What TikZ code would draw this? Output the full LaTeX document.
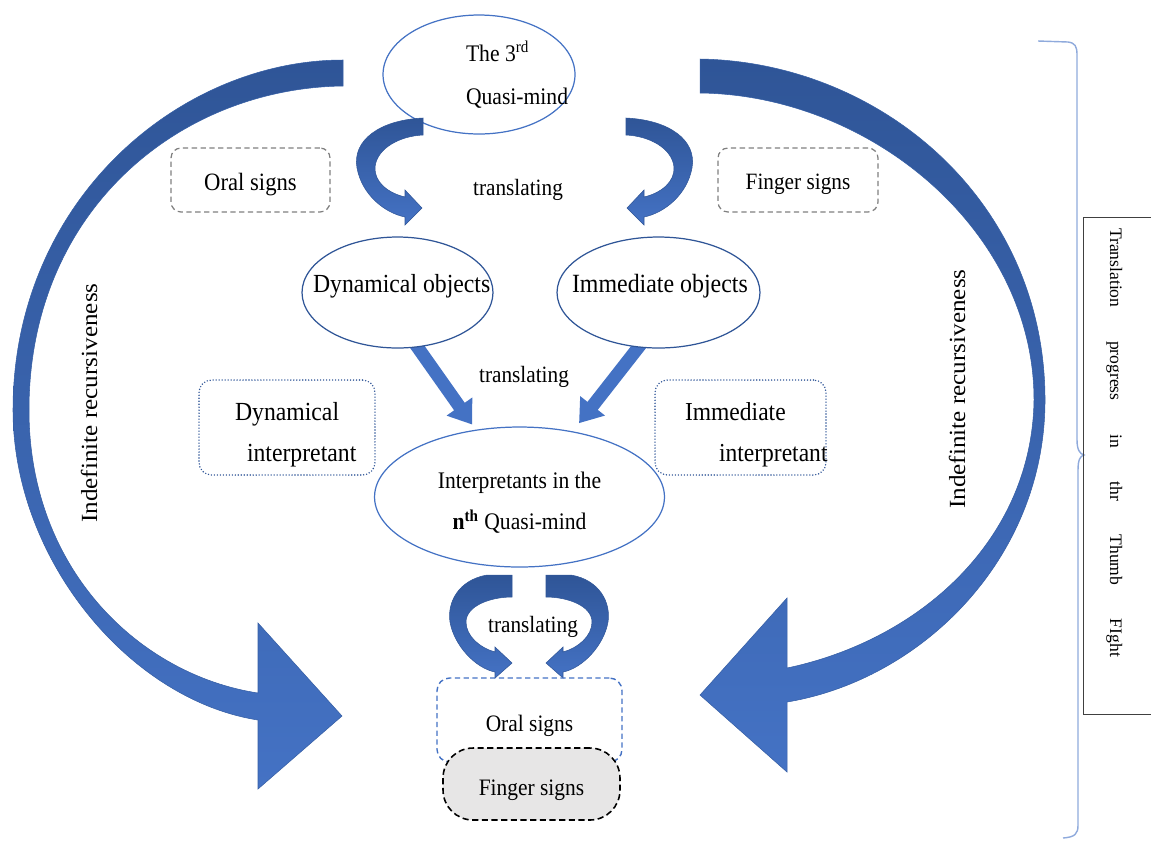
\documentclass[tikz,border=0pt]{standalone}
\usepackage{fontspec}
\usepackage{graphicx}
\setmainfont{Liberation Serif}
\usetikzlibrary{shapes.geometric,arrows.meta,backgrounds}
\definecolor{arcdark}{RGB}{47,85,151}
\definecolor{arclight}{RGB}{68,114,196}
\definecolor{ellblue}{RGB}{68,114,196}
\definecolor{boxblue}{RGB}{47,85,151}
\definecolor{dashgray}{RGB}{127,127,127}
\definecolor{bracecol}{RGB}{143,170,220}
\definecolor{fingerfill}{RGB}{231,230,230}
\newcommand\tallx[1]{\scalebox{1}[1.1]{#1}}
\newcommand\ptxt[3]{\makebox[0pt][l]{\hspace*{#1}\raisebox{#2}[0pt][0pt]{\tallx{#3}}}}
\newcommand\ctxt[2]{\makebox[0pt]{\raisebox{#1}[0pt][0pt]{\tallx{#2}}}}
\begin{document}
\begin{tikzpicture}[x=0.02cm,y=-0.02cm,
  ellL/.style={ellipse, draw=ellblue, line width=0.7pt, fill=white, inner sep=0pt, outer sep=0pt},
  ellD/.style={ellL, draw=boxblue},
  grayrect/.style={rectangle, rounded corners=0.2cm, draw=dashgray, line width=0.7pt, dash pattern=on 3pt off 2pt, inner sep=0pt},
  dotrect/.style={rectangle, rounded corners=0.25cm, draw=boxblue, line width=0.9pt, dash pattern=on 0pt off 1.7pt, line cap=round, inner sep=0pt},
  bluedash/.style={rectangle, rounded corners=0.25cm, draw=arclight, line width=0.8pt, dash pattern=on 3pt off 2pt, inner sep=0pt},
  fingerbox/.style={rectangle, rounded corners=0.6cm, draw=black, fill=fingerfill, line width=0.9pt, dash pattern=on 3.5pt off 2pt, inner sep=0pt},
  fatarrow/.style={draw=arclight, line width=0.26cm, -{Triangle[width=0.6cm,length=0.44cm]}},
  bigarc/.style={top color=arcdark, middle color=arcdark!55!arclight, bottom color=arclight, draw=arcdark!70!arclight, line width=0.3pt},
  ribbon/.style={top color=arcdark, bottom color=arclight, draw=arcdark, line width=0.3pt},
  lbl/.style={font=\fontsize{12.1}{14}\selectfont, inner sep=0pt, anchor=base},
  rotlbl/.style={font=\fontsize{14.3}{17}\selectfont, inner sep=0pt, anchor=base, rotate=90}
]
\useasboundingbox (0,0) rectangle (1151,840);

% big curved arrows
\shadedraw[bigarc] (343,60) .. controls (180,60) and (13,200) .. (13,410) .. controls (13,560) and (130,700) .. (258,720) -- (258,789) -- (342,716) -- (258,623) -- (258,693) .. controls (140,675) and (29,570) .. (29,410) .. controls (29,210) and (180,88) .. (343,86) -- cycle;
\shadedraw[bigarc] (700,59) .. controls (880,62) and (1045,200) .. (1045,400) .. controls (1045,560) and (920,680) .. (787,702) -- (787,772) -- (700,695) -- (787,598) -- (787,668) .. controls (920,640) and (1032,540) .. (1034,400) .. controls (1034,230) and (870,95) .. (700,93) -- cycle;

% ellipses
\node[ellL, minimum width=3.84cm, minimum height=2.38cm, font=\fontsize{12.3}{22.7}\selectfont] (q3) at (479,74.5)
  {\ptxt{-0.26cm}{0.27cm}{\begin{tabular}[t]{@{}l@{}}The 3\textsuperscript{rd}\\Quasi-mind\end{tabular}}};
\node[ellD, minimum width=3.82cm, minimum height=2.22cm, font=\fontsize{13.5}{15}\selectfont] (dyn) at (397.5,292.5)
  {\ptxt{-1.69cm}{0cm}{Dynamical objects}};
\node[ellD, minimum width=4.06cm, minimum height=2.22cm, font=\fontsize{13.6}{15}\selectfont] (imm) at (658.5,292.5)
  {\ptxt{-1.73cm}{0cm}{Immediate objects}};
\node[ellL, minimum width=5.8cm, minimum height=2.8cm, font=\fontsize{12.3}{21.5}\selectfont] (interp) at (519.5,497)
  {\ctxt{0.18cm}{\begin{tabular}[t]{@{}c@{}}Interpretants in the\\\textbf{n\textsuperscript{th}} Quasi-mind\end{tabular}}};

% straight arrows (under the ellipses)
\begin{scope}[on background layer]
\draw[fatarrow, shorten <=-0.15cm, shorten >=0.14cm] (dyn.290) -- (interp.123);
\draw[fatarrow, shorten <=-0.15cm, shorten >=0.22cm] (imm.250) -- (interp.51);
\end{scope}

% small ribbons
\shadedraw[ribbon] (423,118) .. controls (380,120) and (352,140) .. (357,168) .. controls (362,195) and (385,213) .. (405,217) -- (405,225) -- (422,208) -- (405,190) -- (405,197) .. controls (388,193) and (374,182) .. (375,167) .. controls (377,148) and (400,136) .. (423,135) -- cycle;
\shadedraw[ribbon] (626,118) .. controls (669,120) and (697,140) .. (692,168) .. controls (687,195) and (664,213) .. (644,217) -- (644,225) -- (627,208) -- (644,190) -- (644,197) .. controls (661,193) and (675,182) .. (674,167) .. controls (672,148) and (649,136) .. (626,135) -- cycle;
\shadedraw[ribbon] (487,575) .. controls (458,580) and (447,603) .. (450,622) .. controls (454,645) and (475,668) .. (495,672) -- (495,678) -- (512,663) -- (495,647) -- (495,652) .. controls (480,648) and (466,636) .. (466,622) .. controls (466,606) and (490,597) .. (512,597) -- (512,575) -- cycle;
\shadedraw[ribbon] (571,575) .. controls (600,580) and (611,603) .. (608,622) .. controls (604,645) and (583,668) .. (563,672) -- (563,678) -- (546,663) -- (563,647) -- (563,652) .. controls (578,648) and (592,636) .. (592,622) .. controls (592,606) and (568,597) .. (546,597) -- (546,575) -- cycle;

% boxes
\node[grayrect, minimum width=3.18cm, minimum height=1.28cm, font=\fontsize{12.9}{15}\selectfont] (oral1) at (250.5,180) {\ctxt{-0.2cm}{Oral signs}};
\node[grayrect, minimum width=3.2cm, minimum height=1.28cm, font=\fontsize{12.1}{15}\selectfont] (finger1) at (798,180) {\ctxt{-0.18cm}{Finger signs}};
\node[dotrect, minimum width=3.52cm, minimum height=1.9cm, font=\fontsize{13.5}{21.5}\selectfont] (dint) at (287,427.5)
  {\ptxt{-1.04cm}{0.15cm}{\begin{tabular}[t]{@{}l@{}}Dynamical\\\hspace*{0.24cm}interpretant\end{tabular}}};
\node[dotrect, minimum width=3.42cm, minimum height=1.9cm, font=\fontsize{13.4}{21.5}\selectfont] (iint) at (740.5,427.5)
  {\ptxt{-1.11cm}{0.15cm}{\begin{tabular}[t]{@{}l@{}}Immediate\\\hspace*{0.68cm}interpretant\end{tabular}}};
\node[bluedash, minimum width=3.7cm, minimum height=1.68cm, font=\fontsize{12.2}{15}\selectfont] (oral2) at (529.5,720) {\ctxt{-0.22cm}{Oral signs}};
\node[fingerbox, minimum width=3.54cm, minimum height=1.44cm, font=\fontsize{12.2}{15}\selectfont] (finger2) at (531.5,784) {\ctxt{-0.22cm}{Finger signs}};

% translating labels
\node[lbl] (tr1) at (518,195) {\tallx{translating}};
\node[lbl] (tr2) at (524,382) {\tallx{translating}};
\node[lbl] (tr3) at (533,632) {\tallx{translating}};

% rotated labels
\node[rotlbl] (ir1) at (97,403) {\scalebox{1}[0.92]{Indefinite recursiveness}};
\node[rotlbl] (ir2) at (965,389) {\scalebox{1}[0.92]{Indefinite recursiveness}};

% brace and side box
\draw[bracecol, line width=0.8pt] (1038,41) -- (1068,42) .. controls (1075,43) and (1077,46) .. (1077,55) -- (1077,440) .. controls (1077,450) and (1080,454) .. (1084,455) .. controls (1080,456) and (1078,460) .. (1078,470) -- (1078,825) .. controls (1078,834) and (1075,837) .. (1063,838);
\node[draw=black!75, line width=0.6pt, minimum width=1.6cm, minimum height=9.94cm, inner sep=0pt, anchor=north west] (tbox) at (1083,217) {};
\node[rotate=-90, anchor=base, font=\fontsize{10}{12}\selectfont, inner sep=0pt] (tlabel) at (1110,442.5) {\makebox[8.58cm][s]{Translation progress in thr Thumb FIght}};
\end{tikzpicture}
\end{document}
